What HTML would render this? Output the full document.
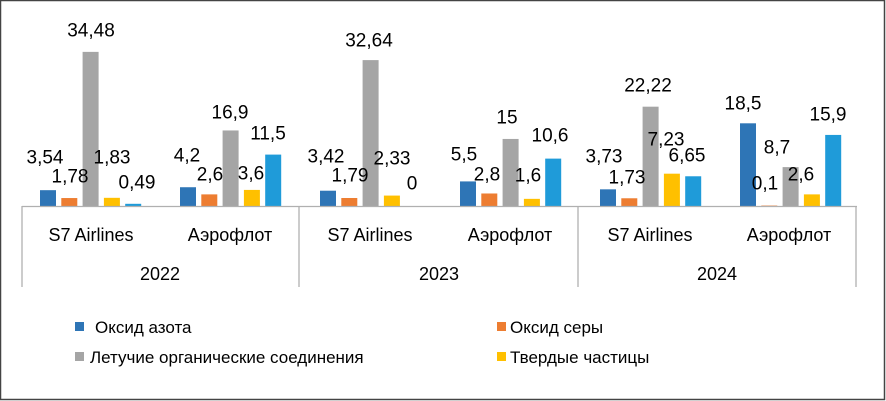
<!DOCTYPE html>
<html><head><meta charset="utf-8"><style>
html,body{margin:0;padding:0;background:#fff;}
svg{display:block;font-family:"Liberation Sans","DejaVu Sans",sans-serif;}
</style></head><body>
<svg width="886" height="401" viewBox="0 0 886 401" xmlns="http://www.w3.org/2000/svg">
<rect x="0.5" y="0.5" width="884" height="399" fill="#fff" stroke="#444" stroke-width="1.5"/>
<g id="bars"></g>
<g stroke="#b0b0b0" stroke-width="1.3" fill="none">
<line x1="22" y1="206.5" x2="857" y2="206.5"/>
<line x1="22" y1="206" x2="22" y2="287"/>
<line x1="299" y1="206" x2="299" y2="287"/>
<line x1="578" y1="206" x2="578" y2="287"/>
<line x1="856" y1="206" x2="856" y2="287"/>
</g>
<g font-size="18" fill="#000" text-anchor="middle">
<text x="91" y="241">S7 Airlines</text>
<text x="230" y="241">Аэрофлот</text>
<text x="370" y="241">S7 Airlines</text>
<text x="510" y="241">Аэрофлот</text>
<text x="650" y="241">S7 Airlines</text>
<text x="789" y="241">Аэрофлот</text>
<text x="160" y="280">2022</text>
<text x="439" y="280">2023</text>
<text x="717" y="280">2024</text>
</g>
<g font-size="17" fill="#000">
<rect x="75" y="322" width="9" height="9" fill="#2E75B6"/><text x="95" y="333">Оксид азота</text>
<rect x="497" y="322" width="9" height="9" fill="#ED7D31"/><text x="510" y="333">Оксид серы</text>
<rect x="75" y="352" width="9" height="9" fill="#A5A5A5"/><text x="90" y="363">Летучие органические соединения</text>
<rect x="497" y="352" width="9" height="9" fill="#FFC000"/><text x="510" y="363">Твердые частицы</text>
</g>
<g id="labels" font-size="19" fill="#000" text-anchor="middle" dominant-baseline="central"></g>
<script>
var cols=["#2E75B6","#ED7D31","#A5A5A5","#FFC000","#1F9BD9"];
var data=[[3.54,1.78,34.48,1.83,0.49],[4.2,2.6,16.9,3.6,11.5],[3.42,1.79,32.64,2.33,0],[5.5,2.8,15,1.6,10.6],[3.73,1.73,22.22,7.23,6.65],[18.5,0.1,8.7,2.6,15.9]];
var lab=[[["3,54",45,158],["1,78",70,177],["34,48",91,31],["1,83",112,158],["0,49",137,183]],
[["4,2",187,156],["2,6",210,175],["16,9",230,113],["3,6",251,174],["11,5",268,134]],
[["3,42",326,157],["1,79",350,176],["32,64",369,41],["2,33",392,159],["0",412,184]],
[["5,5",464,155],["2,8",487,175],["15",507,118],["1,6",528,176],["10,6",550,136]],
[["3,73",604,157],["1,73",627,178],["22,22",648,86],["7,23",666,140],["6,65",687,156]],
[["18,5",743,104],["0,1",765,184],["8,7",777,148],["2,6",801,175],["15,9",828,115]]];
var ns="http://www.w3.org/2000/svg",b=document.getElementById("bars"),l=document.getElementById("labels");
for(var g=0;g<6;g++){var c=90+g*140;for(var i=0;i<5;i++){var v=data[g][i];var h=v*4.47;var x=c-50+i*21.3;
if(h>0.3){var r=document.createElementNS(ns,"rect");r.setAttribute("x",x);r.setAttribute("y",206-h);r.setAttribute("width",16);r.setAttribute("height",h);r.setAttribute("fill",cols[i]);b.appendChild(r);}
var t=document.createElementNS(ns,"text");t.setAttribute("x",lab[g][i][1]);t.setAttribute("y",lab[g][i][2]);t.textContent=lab[g][i][0];l.appendChild(t);}}
</script>
</svg>
</body></html>
